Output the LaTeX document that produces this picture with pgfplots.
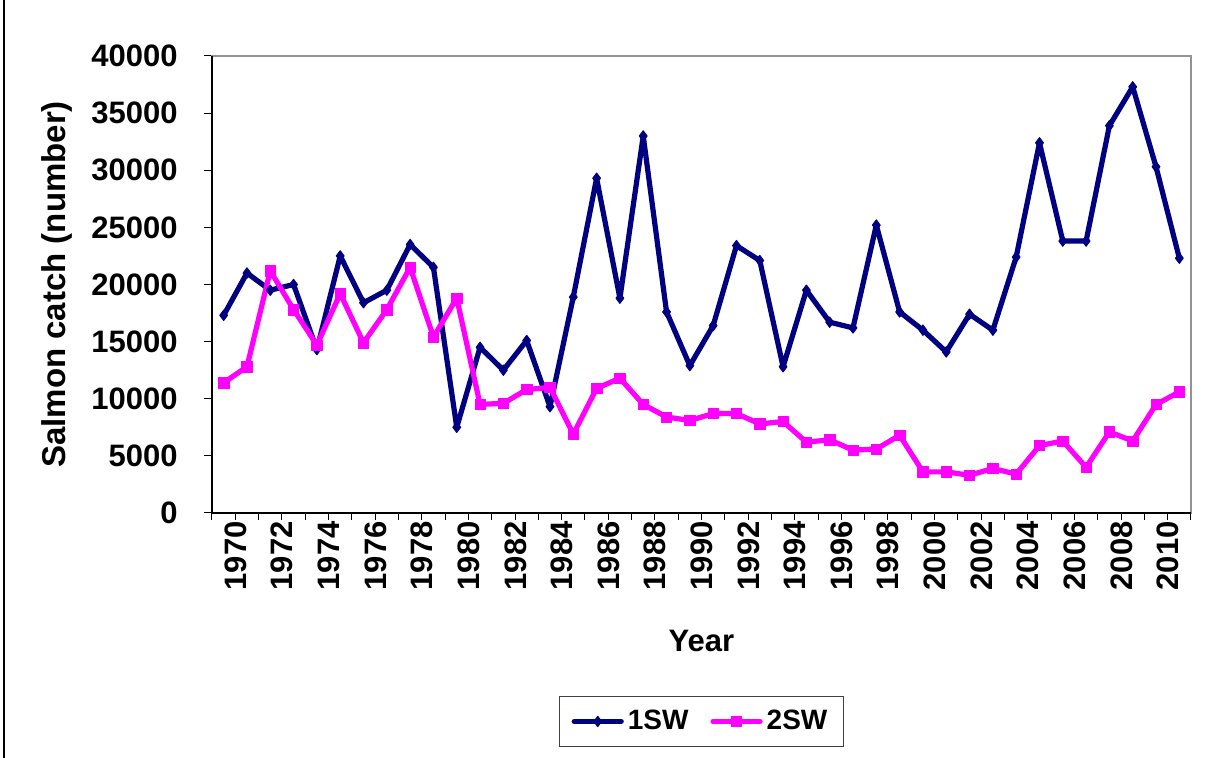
\documentclass[border=0pt]{standalone}
\usepackage{pgfplots}
\pgfplotsset{compat=1.18}
\usepackage{fontspec}
\setmainfont{Liberation Sans}
\definecolor{navy}{RGB}{0,0,128}
\definecolor{mag}{RGB}{255,0,255}
\pgfplotstableread{
x y
0 17300
1 21000
2 19500
3 20000
4 14300
5 22500
6 18400
7 19500
8 23500
9 21500
10 7500
11 14500
12 12500
13 15100
14 9300
15 18900
16 29300
17 18800
18 33000
19 17600
20 12900
21 16400
22 23400
23 22100
24 12800
25 19500
26 16700
27 16200
28 25200
29 17600
30 16000
31 14100
32 17400
33 16000
34 22400
35 32400
36 23800
37 23800
38 33900
39 37300
40 30300
41 22300
}\oneSW
\pgfplotstableread{
x y
0 11400
1 12800
2 21200
3 17800
4 14700
5 19200
6 14900
7 17800
8 21500
9 15400
10 18800
11 9500
12 9600
13 10800
14 11000
15 6900
16 10900
17 11800
18 9500
19 8400
20 8100
21 8700
22 8700
23 7800
24 8000
25 6200
26 6400
27 5500
28 5600
29 6800
30 3600
31 3600
32 3300
33 3900
34 3400
35 5900
36 6300
37 4000
38 7100
39 6300
40 9500
41 10600
}\twoSW
\begin{document}
\begin{tikzpicture}
\useasboundingbox (0,0) rectangle (606pt,379pt);
\draw[black, line width=0.6pt] (2pt,0) -- (2pt,379pt);
\begin{axis}[
  at={(106pt,122.5pt)}, anchor=south west,
  width=489.5pt, height=228.5pt, scale only axis,
  xmin=-0.5, xmax=41.5, ymin=0, ymax=40000,
  xtick={0,2,...,40},
  xticklabels={1970,1972,1974,1976,1978,1980,1982,1984,1986,1988,1990,1992,1994,1996,1998,2000,2002,2004,2006,2008,2010},
  minor xtick={-0.5,0.5,...,41.5},
  ytick={0,5000,...,40000},
  xtick pos=bottom, ytick pos=left,
  tick align=outside,
  major tick length=4pt, minor tick length=3.5pt,
  major x tick style={draw=none},
  minor x tick style={draw=black, line width=0.5pt},
  major y tick style={draw=black, line width=0.5pt},
  axis line style={draw=gray!85, line width=1pt},
  scaled y ticks=false,
  /pgf/number format/assume math mode=true,
  /pgf/number format/1000 sep={},
  tick label style={font=\bfseries\fontsize{15.5}{18}\selectfont, text=black},
  xticklabel style={rotate=90, anchor=east, inner sep=0pt, yshift=-6pt},
  yticklabel style={anchor=east, inner sep=0pt, xshift=-13pt},
  xlabel={Year},
  xlabel style={font=\bfseries\fontsize{15.5}{18}\selectfont, at={(axis description cs:0.5,0)}, anchor=center, yshift=-64pt},
  ylabel={Salmon catch (number)},
  ylabel style={font=\bfseries\fontsize{16.5}{19}\selectfont, at={(axis description cs:0,0.5)}, anchor=center, yshift=77.5pt},
  legend columns=2,
  legend style={at={(axis description cs:0.5,0)}, anchor=center, yshift=-104.25pt,
    draw=black!75, line width=0.6pt, font=\bfseries\fontsize{14}{17}\selectfont,
    inner xsep=6pt, inner ysep=5pt,
    /tikz/every even column/.append style={column sep=9pt}},
  legend image code/.code={\draw[mark repeat=2, mark phase=2, line cap=round, #1] plot coordinates {(0pt,0pt) (11.75pt,0pt) (23.5pt,0pt)};},
  clip=false,
  after end axis/.code={
    \draw[black, line width=0.8pt] (rel axis cs:0,1) -- (rel axis cs:0,0) -- (rel axis cs:1,0);
  },
]
\addplot[navy, line width=2.6pt, line join=round, mark=diamond*, mark size=2.6pt, mark options={solid, fill=navy, line width=0.5pt}] table[x=x, y=y] {\oneSW};
\addlegendentry{1SW}
\addplot[mag, line width=2.6pt, line join=round, mark=square*, mark size=2.6pt, mark options={solid, fill=mag, line width=0.3pt}] table[x=x, y=y] {\twoSW};
\addlegendentry{2SW}
\end{axis}
\end{tikzpicture}
\end{document}
